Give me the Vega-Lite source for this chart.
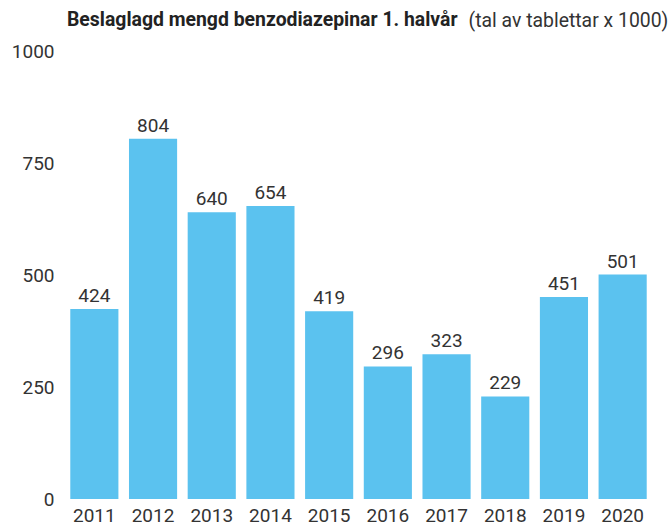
{
  "$schema": "https://vega.github.io/schema/vega-lite/v6.json",
  "autosize": {"type": "none"},
  "width": 587,
  "height": 448,
  "padding": {"left": 65, "top": 51, "right": 20, "bottom": 30},
  "background": "white",
  "title": {
    "text": "Beslaglagd mengd benzodiazepinar 1. halvår",
    "anchor": "start",
    "frame": "group",
    "font": "Roboto",
    "fontSize": 19.4,
    "fontWeight": "bold",
    "color": "#222222",
    "baseline": "alphabetic",
    "offset": 0,
    "dx": 2,
    "dy": 35
  },
  "data": {
    "values": [
      {"year": "2011", "value": 424},
      {"year": "2012", "value": 804},
      {"year": "2013", "value": 640},
      {"year": "2014", "value": 654},
      {"year": "2015", "value": 419},
      {"year": "2016", "value": 296},
      {"year": "2017", "value": 323},
      {"year": "2018", "value": 229},
      {"year": "2019", "value": 451},
      {"year": "2020", "value": 501}
    ]
  },
  "encoding": {
    "x": {
      "field": "year",
      "type": "nominal",
      "scale": {"paddingInner": 0.18, "paddingOuter": 0.09},
      "axis": {
        "title": null,
        "labelAngle": 0,
        "domain": false,
        "ticks": false,
        "labelPadding": 7,
        "labelFont": "Roboto",
        "labelFontSize": 19,
        "labelColor": "#333333"
      }
    },
    "y": {
      "field": "value",
      "type": "quantitative",
      "scale": {"domain": [0, 1000]},
      "axis": {
        "values": [0, 250, 500, 750, 1000],
        "format": "d",
        "grid": false,
        "domain": false,
        "ticks": false,
        "labelPadding": 11,
        "labelFont": "Roboto",
        "labelFontSize": 19,
        "labelColor": "#333333",
        "title": "(tal av tablettar x 1000)",
        "titleAngle": 0,
        "titleAlign": "left",
        "titleBaseline": "alphabetic",
        "titleFont": "Roboto",
        "titleFontSize": 19.4,
        "titleFontWeight": "normal",
        "titleColor": "#333333",
        "titleX": 403,
        "titleY": -25
      }
    }
  },
  "layer": [
    {"mark": {"type": "bar", "color": "#5BC2EF"}},
    {
      "mark": {
        "type": "text",
        "baseline": "alphabetic",
        "dy": -7,
        "font": "Roboto",
        "fontSize": 19,
        "color": "#333333"
      },
      "encoding": {"text": {"field": "value", "type": "quantitative"}}
    }
  ],
  "config": {"view": {"stroke": null}}
}
